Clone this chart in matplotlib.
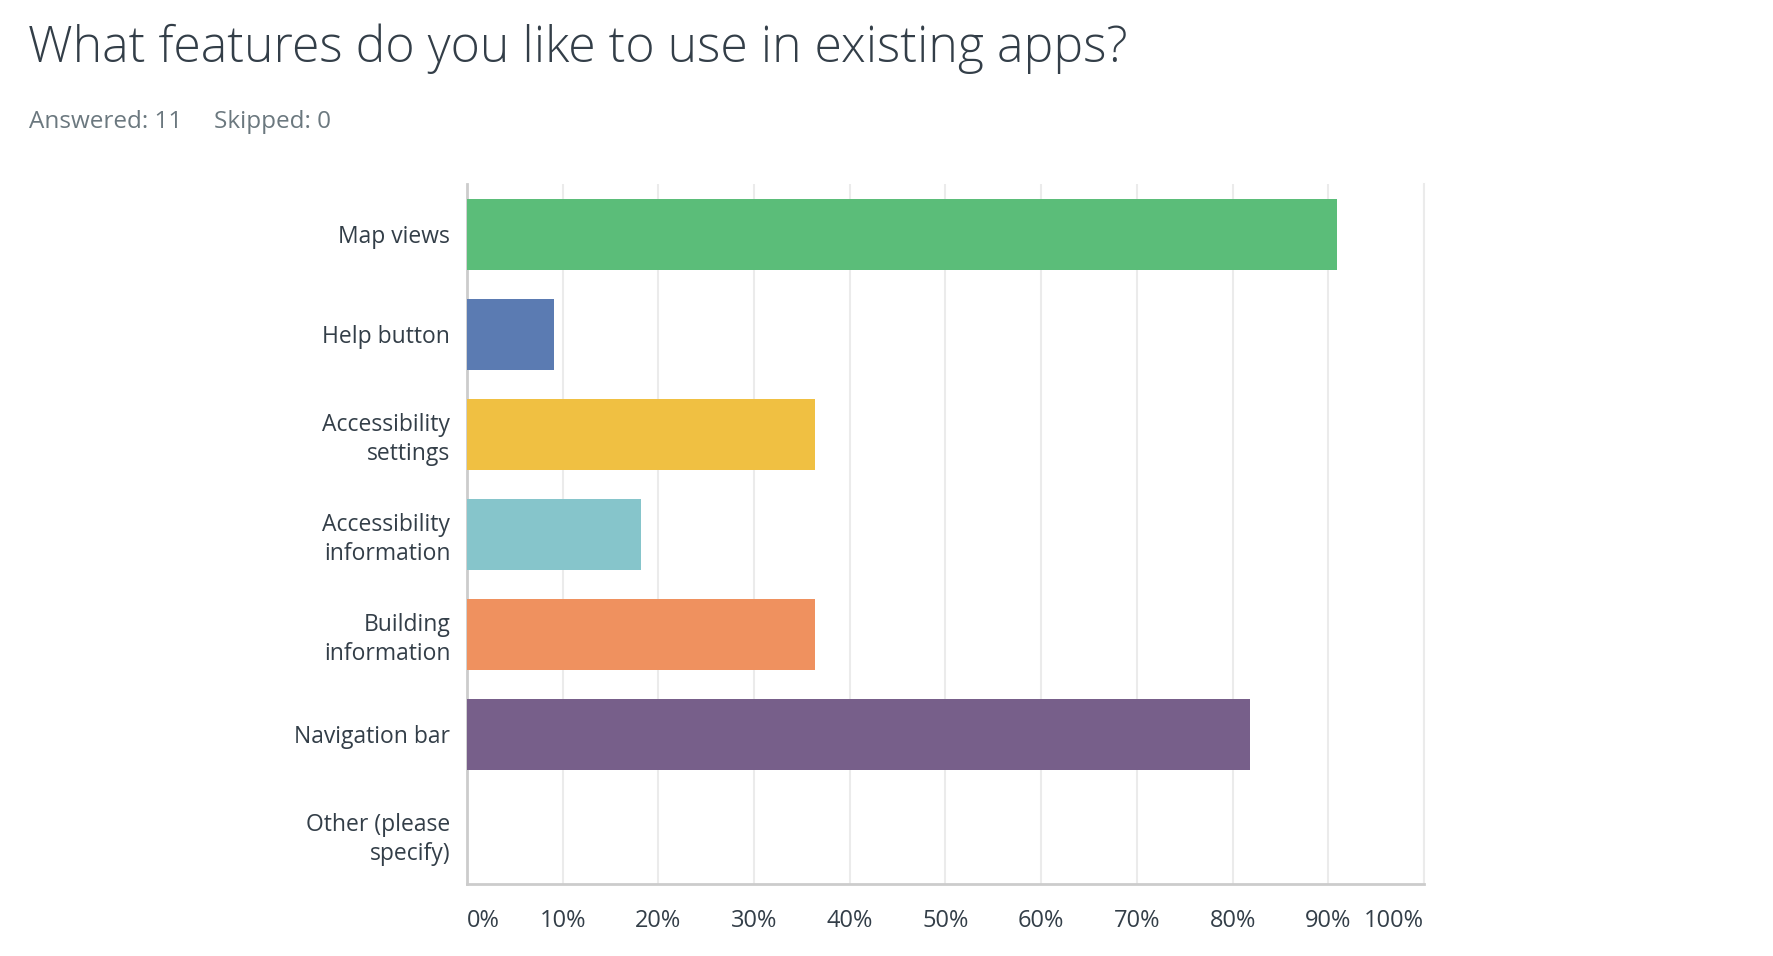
import matplotlib
matplotlib.use("Agg")
import matplotlib.pyplot as plt
import numpy as np

# survey results (11 answered)
categories = ["Map views", "Help button", "Accessibility\nsettings",
              "Accessibility\ninformation", "Building\ninformation",
              "Navigation bar", "Other (please\nspecify)"]
percent = [90.91, 9.09, 36.36, 18.18, 36.36, 81.82, 0.0]
colors = ["#5BBD79", "#5B7BB2", "#F0C042", "#86C5CB", "#EF915F", "#775F8A", "#9B9B9B"]
xticks = [0, 10, 20, 30, 40, 50, 60, 70, 80, 90, 100]
xtick_labels = [f"{t}%" for t in xticks]

TXT = "#333E48"
FONT = ["Open Sans", "DejaVu Sans"]
plt.rcParams["font.family"] = FONT

fig = plt.figure(figsize=(17.74, 9.56), dpi=100)
ax = fig.add_axes([0.2632, 0.0753, 0.5395, 0.7322])

y = np.arange(len(categories))
ax.barh(y, percent, height=0.71, color=colors, zorder=3)
ax.set_ylim(len(categories) - 0.5, -0.5)
ax.set_xlim(0, 100)

ax.set_yticks(y)
ax.set_yticklabels(categories, fontsize=16.5, color=TXT, linespacing=1.3)
ax.set_xticks(xticks)
ax.set_xticklabels(xtick_labels, fontsize=17, color=TXT)
for i, lab in enumerate(ax.get_xticklabels()):
    if i == 0:
        lab.set_ha("left")
    elif i == len(xticks) - 1:
        lab.set_ha("right")
ax.tick_params(axis="y", length=0, pad=12)
ax.tick_params(axis="x", length=0, pad=18)

ax.grid(axis="x", color="#EBEBEB", linewidth=1.5, zorder=0)
ax.spines["top"].set_visible(False)
ax.spines["right"].set_color("#EBEBEB")
ax.spines["right"].set_linewidth(1.5)
ax.spines["left"].set_color("#CCCCCC")
ax.spines["left"].set_linewidth(2)
ax.spines["bottom"].set_color("#CCCCCC")
ax.spines["bottom"].set_linewidth(2)

fig.text(28 / 1774, 1 - 49 / 956, "What features do you like to use in existing apps?",
         fontsize=36, fontweight="light", color=TXT, va="center", ha="left")
fig.text(29 / 1774, 1 - 122 / 956, "Answered: 11", fontsize=17.5, color="#6B787F",
         va="center", ha="left")
fig.text(214 / 1774, 1 - 122 / 956, "Skipped: 0", fontsize=17.5, color="#6B787F",
         va="center", ha="left")

fig.savefig("out.png", dpi=100)
